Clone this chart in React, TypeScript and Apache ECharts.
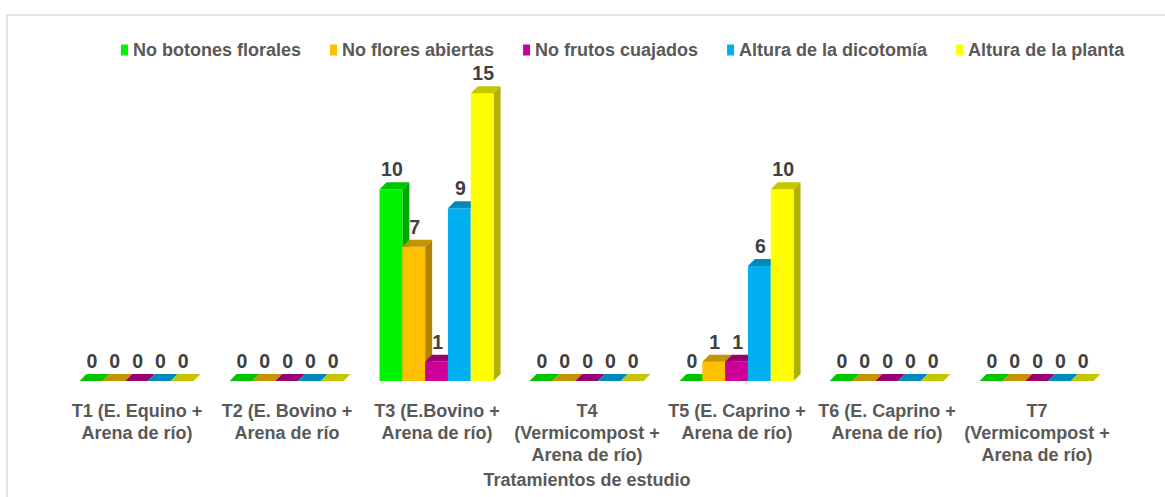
import React, { useEffect, useRef } from "react";
import * as echarts from "echarts";

const categories = [
  "T1 (E. Equino +\nArena de río)",
  "T2 (E. Bovino +\nArena de río",
  "T3 (E.Bovino +\nArena de río)",
  "T4\n(Vermicompost +\nArena de río)",
  "T5 (E. Caprino +\nArena de río)",
  "T6 (E. Caprino +\nArena de río)",
  "T7\n(Vermicompost +\nArena de río)",
];

const seriesNames = [
  "No botones florales",
  "No flores abiertas",
  "No frutos cuajados",
  "Altura de la dicotomía",
  "Altura de la planta",
];

const botones = [0, 0, 10, 0, 0, 0, 0];
const flores = [0, 0, 7, 0, 1, 0, 0];
const frutos = [0, 0, 1, 0, 1, 0, 0];
const dicotomia = [0, 0, 9, 0, 6, 0, 0];
const planta = [0, 0, 15, 0, 10, 0, 0];

const seriesValues = [botones, flores, frutos, dicotomia, planta];

const frontColors = ["#00f400", "#ffc000", "#cc0099", "#00b0f0", "#ffff00"];
const sideColors = ["#00a800", "#b08400", "#8c006a", "#007eae", "#b0b000"];
const topColors = ["#00c400", "#c49300", "#9a0074", "#0089bc", "#c6c600"];

const FONT = "'Liberation Sans', Arial, sans-serif";

export default function App() {
  const ref = useRef<HTMLDivElement>(null);

  useEffect(() => {
    if (!ref.current) return;
    const chart = echarts.init(ref.current, undefined, { renderer: "svg" });

    const makeSeries = (s: number) => ({
      type: "custom",
      name: seriesNames[s],
      itemStyle: { color: frontColors[s] },
      data: seriesValues[s].map((v, i) => [i, v]),
      encode: { x: 0, y: 1 },
      renderItem: (params: any, api: any) => {
        const ci = api.value(0);
        const v = api.value(1);
        const base = api.coord([ci, 0]);
        const top = api.coord([ci, v]);
        const band = api.size([1, 0])[0];
        const bw = band * 0.152;
        const dx = 7;
        const dy = 7;
        const x0 = base[0] - band * 0.403 + s * bw;
        const x1 = x0 + bw;
        const yb = base[1];
        const yt = top[1];
        const children: any[] = [];
        if (yb - yt > 0.5) {
          children.push({
            type: "polygon",
            shape: {
              points: [
                [x1, yt],
                [x1 + dx, yt - dy],
                [x1 + dx, yb - dy],
                [x1, yb],
              ],
            },
            style: { fill: sideColors[s] },
          });
          children.push({
            type: "rect",
            shape: { x: x0, y: yt, width: bw, height: yb - yt },
            style: { fill: frontColors[s] },
          });
        }
        children.push({
          type: "polygon",
          shape: {
            points: [
              [x0, yt],
              [x0 + dx, yt - dy],
              [x1 + dx, yt - dy],
              [x1, yt],
            ],
          },
          style: { fill: topColors[s] },
        });
        children.push({
          type: "text",
          x: x0 + bw / 2 + 1,
          y: yt - dy - 3,
          style: {
            text: String(v),
            fill: "#404040",
            font: "bold 19.5px " + FONT,
            align: "center",
            verticalAlign: "bottom",
          },
        });
        return { type: "group", children };
      },
    });

    chart.setOption({
      animation: false,
      backgroundColor: "#ffffff",
      graphic: [
        {
          type: "polyline",
          shape: {
            points: [
              [7, 520],
              [7, 15],
              [1190, 15],
            ],
          },
          style: { stroke: "#d9d9d9", lineWidth: 1.5, fill: "none" },
          silent: true,
        },
      ],
      legend: {
        left: 116,
        top: 36,
        itemWidth: 7,
        itemHeight: 11,
        itemGap: 29,
        itemTextGap: 7,
        icon: "rect",
        data: seriesNames.map((n, i) => ({ name: n, itemStyle: { color: frontColors[i] } })),
        textStyle: {
          color: "#595959",
          fontSize: 18,
          fontWeight: "bold",
          fontFamily: FONT,
        },
      },
      grid: { left: 62, right: 53, top: 74, bottom: 116 },
      xAxis: {
        type: "category",
        data: categories,
        axisLine: { show: false },
        axisTick: { show: false },
        axisLabel: {
          interval: 0,
          margin: 19,
          color: "#595959",
          fontSize: 18,
          fontWeight: "bold",
          lineHeight: 22,
          fontFamily: FONT,
        },
        name: "Tratamientos de estudio",
        nameLocation: "middle",
        nameGap: 87,
        nameTextStyle: {
          color: "#595959",
          fontSize: 18,
          fontWeight: "bold",
          lineHeight: 19,
          fontFamily: FONT,
        },
      },
      yAxis: {
        type: "value",
        min: 0,
        max: 16,
        show: false,
        splitLine: { show: false },
      },
      series: seriesValues.map((_, s) => {
        const ser: any = makeSeries(s);
        const orig = ser.renderItem;
        ser.renderItem = (p: any, api: any) => {
          const wrapped = Object.create(api);
          wrapped.coord = (d: any) => {
            const c = api.coord(d);
            return [c[0] + 3, c[1]];
          };
          wrapped.size = api.size;
          wrapped.value = api.value;
          return orig(p, wrapped);
        };
        return ser;
      }),
    });

    return () => chart.dispose();
  }, []);

  return (
    <div
      ref={ref}
      style={{ position: "fixed", left: 0, top: 0, width: 1165, height: 497 }}
    />
  );
}
